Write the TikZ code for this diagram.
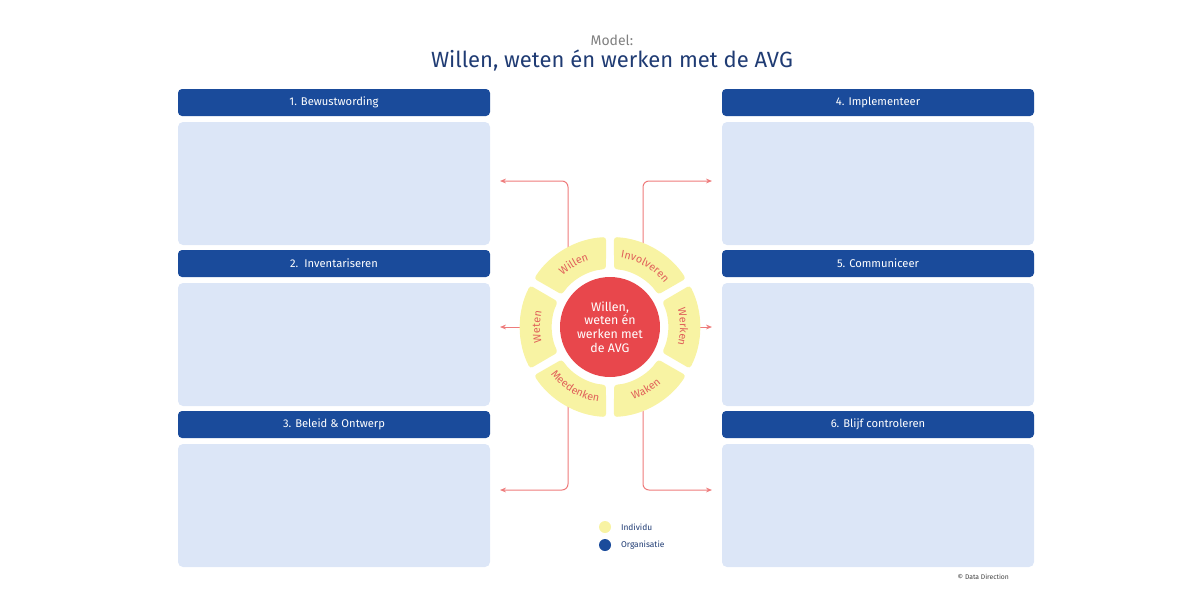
\documentclass[tikz,border=0pt]{standalone}
\usepackage{fontspec}
\setmainfont{Fira Sans}
\usetikzlibrary{decorations.text,arrows.meta}
\definecolor{navy}{HTML}{1A4B9B}
\definecolor{titleblue}{HTML}{1F3B73}
\definecolor{pale}{HTML}{DCE6F7}
\definecolor{avgred}{HTML}{E8474C}
\definecolor{ringy}{HTML}{F8F3A3}
\definecolor{arr}{HTML}{EE7B7B}
\definecolor{ringtxt}{HTML}{E0605A}
\newcommand{\ringfont}{\fontsize{5.4}{6}\selectfont\color{ringtxt}}
\begin{document}
\begin{tikzpicture}[x=0.5pt,y=0.5pt,
  hdr/.style={fill=navy,rounded corners=2pt},
  bodybox/.style={fill=pale,rounded corners=2.5pt},
  hdrtxt/.style={text=white,font=\fontsize{5.6}{6}\selectfont},
  seg/.style={fill=ringy,rounded corners=1.5pt},
  conn/.style={draw=arr,line width=0.5pt,rounded corners=3pt,-{Stealth[length=3pt,width=2.4pt]}},
  ringlbl/.style={decorate,decoration={text along path,text align=center,text={|\ringfont|#1}}}]
\useasboundingbox (0,0) rectangle (1200,-600);
\node[text=gray,font=\fontsize{7}{8}\selectfont] (model) at (612,-40) {Model:};
\node[text=titleblue,font=\fontsize{11}{12}\selectfont] (title) at (612,-61) {Willen, weten én werken met de AVG};
% boxes
\foreach \bx/\n/\t/\hy in {178/b1/{1. Bewustwording}/89, 178/b2/{2.\ \ Inventariseren}/250, 178/b3/{3. Beleid \& Ontwerp}/411,
  722/b4/{4. Implementeer}/89, 722/b5/{5. Communiceer}/250, 722/b6/{6. Blijf controleren}/411}{
  \fill[hdr] (\bx,-\hy) rectangle ++(312,-27);
  \fill[bodybox] (\bx,-\hy-33) rectangle ++(312,-123);
  \node[hdrtxt] (\n) at (\bx+156,-\hy-13.5) {\t};
}
% connectors
\coordinate (tl) at (568,-260); \coordinate (tle) at (500,-181);
\coordinate (tr) at (643,-260); \coordinate (tre) at (712,-181);
\coordinate (ml) at (530,-327); \coordinate (mle) at (500,-327);
\coordinate (mr) at (690,-327); \coordinate (mre) at (712,-327);
\coordinate (bl) at (568,-395); \coordinate (ble) at (500,-490);
\coordinate (br) at (643,-395); \coordinate (bre) at (712,-490);
\draw[conn] (tl) |- (tle);
\draw[conn] (tr) |- (tre);
\draw[conn] (ml) -- (mle);
\draw[conn] (mr) -- (mre);
\draw[conn] (bl) |- (ble);
\draw[conn] (br) |- (bre);
% wheel
\begin{scope}[shift={(610,-327)}]
\foreach \c in {120,60,0,-60,-120,180}{
  \fill[seg] (\c-27.5:90) arc (\c-27.5:\c+27.5:90) -- (\c+26:58) arc (\c+26:\c-26:58) -- cycle;
}
\fill[avgred] (0,0) circle (50);
\node[text=white,align=center,font=\fontsize{6.2}{6.9}\selectfont] (center) at (0,0) {Willen,\\weten én\\werken met\\de AVG};
\path[ringlbl=Willen] (150:70) arc (150:90:70);
\path[ringlbl=Involveren] (90:70) arc (90:30:70);
\path[ringlbl=Werken] (30:70) arc (30:-30:70);
\path[ringlbl=Weten] (-150:70) arc (-150:-210:70);
\path[ringlbl=Meedenken] (-152:76) arc (-152:-88:76);
\path[ringlbl=Waken] (-90:76) arc (-90:-30:76);
\end{scope}
% legend
\fill[ringy] (605,-527) circle (6);
\fill[navy] (605,-545) circle (6);
\node[anchor=west,font=\fontsize{4.2}{5}\selectfont,text=titleblue] (lg1) at (614,-527) {Individu};
\node[anchor=west,font=\fontsize{4.2}{5}\selectfont,text=titleblue] (lg2) at (614,-545) {Organisatie};
\node[anchor=east,font=\fontsize{3.4}{4}\selectfont,text=darkgray] (copy) at (1016,-577) {© Data Direction};
\end{tikzpicture}
\end{document}
